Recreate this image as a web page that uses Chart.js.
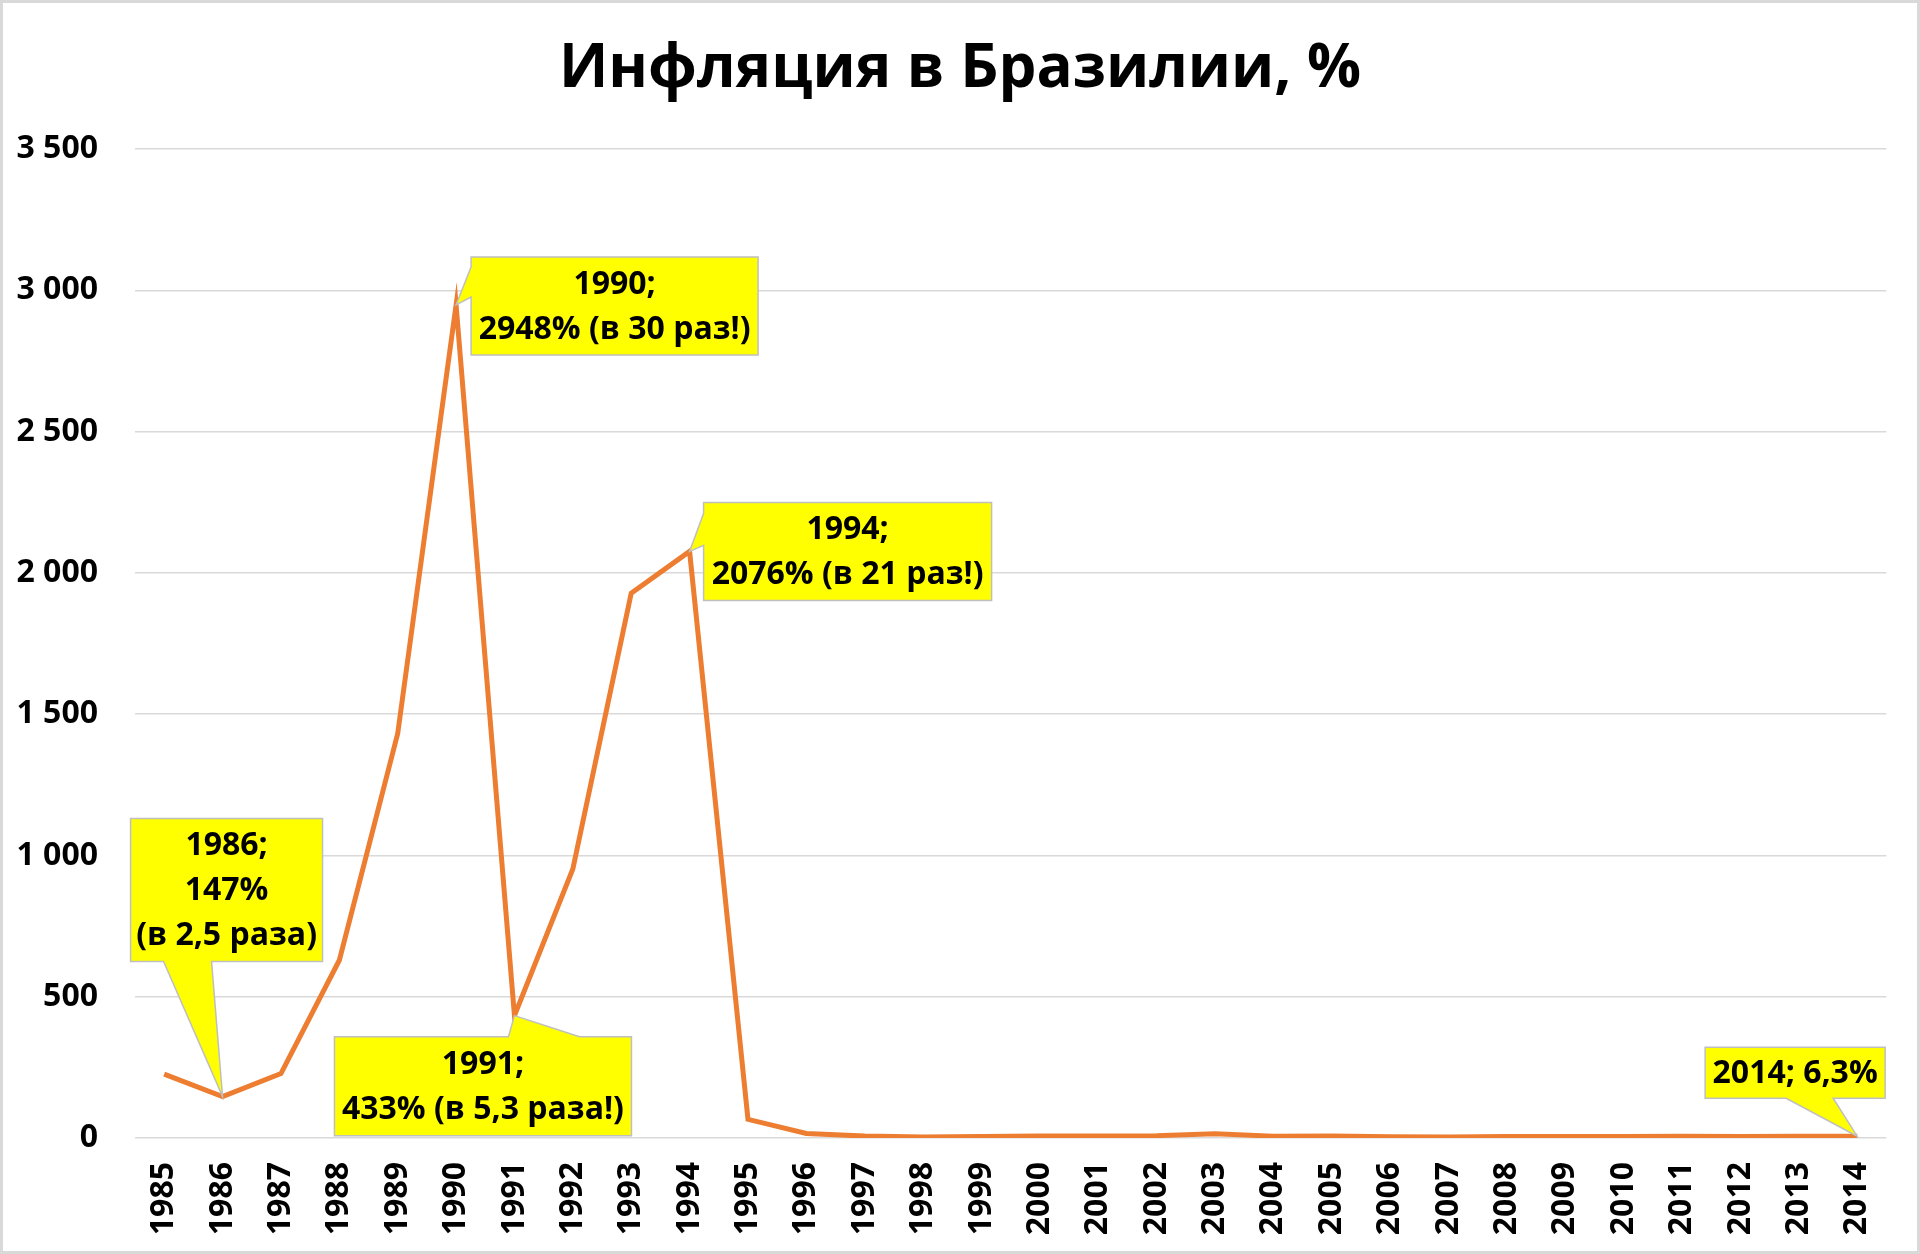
<!DOCTYPE html>
<html>
<head>
<meta charset="utf-8">
<script src="https://cdn.jsdelivr.net/npm/chart.js@4.4.1/dist/chart.umd.min.js"></script>
<style>
  html, body { margin: 0; padding: 0; background: #fff; }
  #wrap { width: 1920px; height: 1254px; position: relative; }
</style>
</head>
<body>
<div id="wrap"><canvas id="chart" width="1920" height="1254"></canvas></div>
<script>
// Years on the category axis
const years = ['1985', '1986', '1987', '1988', '1989', '1990', '1991', '1992', '1993', '1994',
    '1995', '1996', '1997', '1998', '1999', '2000', '2001', '2002', '2003', '2004',
    '2005', '2006', '2007', '2008', '2009', '2010', '2011', '2012', '2013', '2014'];

// Annual inflation, %
const inflation = [226, 147, 228, 629, 1431, 2948, 433, 952, 1928, 2076,
    66, 15.8, 6.9, 3.2, 4.9, 7.0, 6.8, 8.4, 14.8, 6.6,
    6.9, 4.2, 3.6, 5.7, 4.9, 5.0, 6.6, 5.4, 6.2, 6.3];

// Y axis tick values
const yTicks = [0, 500, 1000, 1500, 2000, 2500, 3000, 3500];

const chartTitle = 'Инфляция в Бразилии, %';

// Callout years and their texts
const calloutYears = ['1986', '1990', '1991', '1994', '2014'];
const calloutTexts = [
    ['1986;', '147%', '(в 2,5 раза)'],
    ['1990;', '2948% (в 30 раз!)'],
    ['1991;', '433% (в 5,3 раза!)'],
    ['1994;', '2076% (в 21 раз!)'],
    ['2014; 6,3%']
];

const FONT = "'Open Sans', 'DejaVu Sans', sans-serif";

// Box geometry relative to the data point (left, top, width, height) and pointer base
const calloutLayout = {
    '1986': { dx: -92, dy: -278, w: 192, h: 143, side: 'bottom', a: -59, b: -11 },
    '1990': { dx: 15, dy: -48, w: 287, h: 98, side: 'left', a: -38, b: -8 },
    '1991': { dx: -180, dy: 21, w: 297, h: 99, side: 'top', a: -6, b: 65 },
    '1994': { dx: 14, dy: -49, w: 288, h: 98, side: 'left', a: -38, b: -6 },
    '2014': { dx: -152, dy: -89, w: 180, h: 51, side: 'bottom', a: -71, b: -24 }
};

// White background, thin grey frame and the title centred on the picture
const framePlugin = {
    id: 'frame',
    beforeDraw(chart) {
        const ctx = chart.ctx;
        ctx.save();
        ctx.fillStyle = '#ffffff';
        ctx.fillRect(0, 0, chart.width, chart.height);
        ctx.strokeStyle = '#d9d9d9';
        ctx.lineWidth = 3;
        ctx.strokeRect(1.5, 1.5, chart.width - 3, chart.height - 3);

        ctx.fillStyle = '#000';
        ctx.font = 'bold 60px ' + FONT;
        ctx.textAlign = 'center';
        ctx.textBaseline = 'middle';
        ctx.fillText(chartTitle, chart.width / 2, 70);
        ctx.restore();
    }
};

// Yellow callouts with a pointer to the data point
const calloutPlugin = {
    id: 'callouts',
    afterDatasetsDraw(chart) {
        const ctx = chart.ctx;
        const xs = chart.scales.x;
        const ys = chart.scales.y;
        calloutYears.forEach((year, i) => {
            const idx = years.indexOf(year);
            const px = xs.getPixelForValue(idx);
            const py = ys.getPixelForValue(inflation[idx]);
            const L = calloutLayout[year];
            const x0 = px + L.dx, y0 = py + L.dy, x1 = x0 + L.w, y1 = y0 + L.h;

            ctx.save();
            ctx.beginPath();
            ctx.moveTo(x0, y0);
            if (L.side === 'top') {
                ctx.lineTo(px + L.a, y0);
                ctx.lineTo(px, py);
                ctx.lineTo(px + L.b, y0);
            }
            ctx.lineTo(x1, y0);
            ctx.lineTo(x1, y1);
            if (L.side === 'bottom') {
                ctx.lineTo(px + L.b, y1);
                ctx.lineTo(px, py);
                ctx.lineTo(px + L.a, y1);
            }
            ctx.lineTo(x0, y1);
            if (L.side === 'left') {
                ctx.lineTo(x0, py + L.b);
                ctx.lineTo(px, py);
                ctx.lineTo(x0, py + L.a);
            }
            ctx.closePath();
            ctx.fillStyle = '#ffff00';
            ctx.fill();
            ctx.strokeStyle = '#bfbfbf';
            ctx.lineWidth = 1.5;
            ctx.stroke();

            const lines = calloutTexts[i];
            const lh = 45;
            const cx = (x0 + x1) / 2;
            const cy = (y0 + y1) / 2;
            ctx.fillStyle = '#000';
            ctx.font = 'bold 32px ' + FONT;
            ctx.textAlign = 'center';
            ctx.textBaseline = 'middle';
            lines.forEach((t, k) => {
                ctx.fillText(t, cx, cy + (k - (lines.length - 1) / 2) * lh + 1);
            });
            ctx.restore();
        });
    }
};

const ctx = document.getElementById('chart').getContext('2d');
new Chart(ctx, {
    type: 'line',
    data: {
        labels: years,
        datasets: [{
            label: 'Инфляция, %',
            data: inflation,
            borderColor: '#ed7d31',
            borderWidth: 5,
            pointRadius: 0,
            tension: 0,
            fill: false
        }]
    },
    options: {
        responsive: false,
        animation: false,
        devicePixelRatio: 1,
        layout: { padding: { left: 0, right: 27, top: 149, bottom: 0 } },
        plugins: {
            legend: { display: false },
            tooltip: { enabled: false },
            title: { display: false }
        },
        scales: {
            x: {
                type: 'category',
                offset: true,
                grid: { display: false, drawTicks: false },
                border: { display: false },
                ticks: {
                    color: '#000',
                    font: { family: FONT, size: 32, weight: 'bold' },
                    minRotation: 90,
                    maxRotation: 90,
                    autoSkip: false,
                    padding: 24
                },
                afterFit(scale) { scale.height = 116; }
            },
            y: {
                min: 0,
                max: 3500,
                afterBuildTicks(scale) { scale.ticks = yTicks.map(v => ({ value: v })); },
                grid: { color: '#d9d9d9', lineWidth: 1.5, drawTicks: false },
                border: { display: false },
                ticks: {
                    color: '#000',
                    font: { family: FONT, size: 32, weight: 'bold' },
                    padding: 37,
                    callback: function (value) {
                        return String(value).replace(/\B(?=(\d{3})+(?!\d))/g, ' ');
                    }
                },
                afterFit(scale) { scale.width = 135; }
            }
        }
    },
    plugins: [framePlugin, calloutPlugin]
});
</script>
</body>
</html>
